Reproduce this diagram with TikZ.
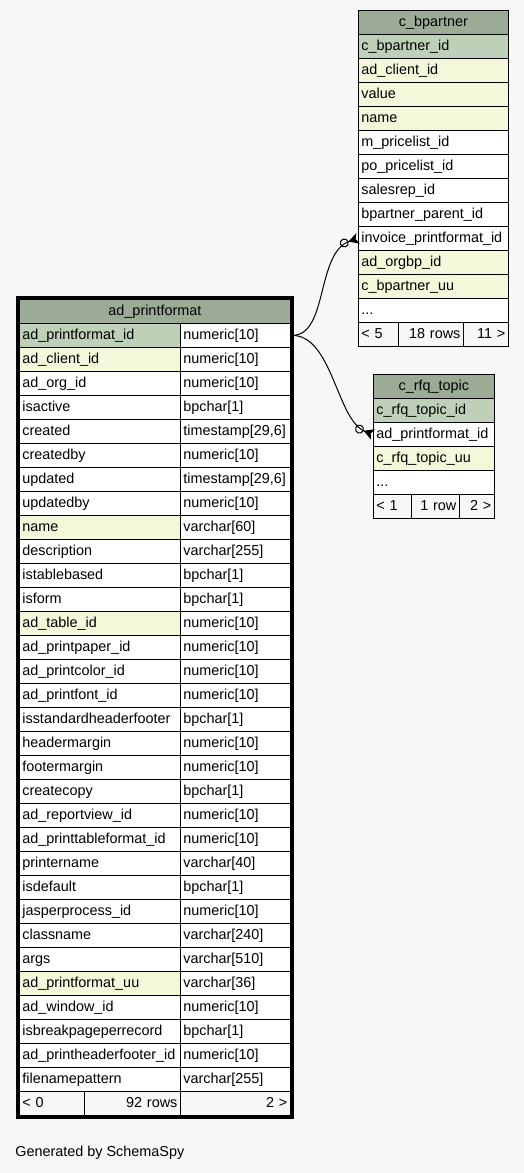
\documentclass[tikz,border=0pt]{standalone}
\usepackage{fontspec}
\setmainfont{Liberation Sans}
\usetikzlibrary{arrows.meta}
\definecolor{bg}{HTML}{F7F7F7}
\definecolor{hdr}{HTML}{9BAB96}
\definecolor{pkc}{HTML}{BED1B8}
\definecolor{idx}{HTML}{F4F7DA}

\begin{document}
\begin{tikzpicture}[x=1pt,y=-1pt,
  every node/.style={font=\fontsize{14.4}{17}\selectfont,draw=black,line width=0.8pt,inner xsep=3pt,inner ysep=0pt,
    text height=11pt,text depth=3.5pt,minimum height=24pt,anchor=north west,align=left},
  hd/.style={fill=hdr,align=center},pk/.style={fill=pkc},ix/.style={fill=idx},cl/.style={fill=white},
  ft/.style={fill=bg},
  nm/.style={text width=155pt},ty/.style={text width=104pt},
  bp/.style={text width=144pt},rq/.style={text width=115pt},
  e/.style={line width=1pt,-{Circle[open,length=9pt,line width=1pt]Stealth[reversed,length=10pt,width=11pt,inset=2.5pt]}}]
\fill[bg] (0,0) rectangle (524,1173);
\useasboundingbox (0,0) rectangle (524,1173);
% ad_printformat
\node[hd,text width=265pt] (PfHead) at (19,299) {ad\_printformat};
\node[pk,nm] (PfPrintFormatId) at (19,323) {ad\_printformat\_id};
\node[cl,ty] (PfPrintFormatIdT) at (180,323) {numeric[10]};
\node[ix,nm] (PfClientId) at (19,347) {ad\_client\_id};
\node[cl,ty] (PfClientIdT) at (180,347) {numeric[10]};
\node[cl,nm] (PfOrgId) at (19,371) {ad\_org\_id};
\node[cl,ty] (PfOrgIdT) at (180,371) {numeric[10]};
\node[cl,nm] (PfIsActive) at (19,395) {isactive};
\node[cl,ty] (PfIsActiveT) at (180,395) {bpchar[1]};
\node[cl,nm] (PfCreated) at (19,419) {created};
\node[cl,ty] (PfCreatedT) at (180,419) {timestamp[29,6]};
\node[cl,nm] (PfCreatedBy) at (19,443) {createdby};
\node[cl,ty] (PfCreatedByT) at (180,443) {numeric[10]};
\node[cl,nm] (PfUpdated) at (19,467) {updated};
\node[cl,ty] (PfUpdatedT) at (180,467) {timestamp[29,6]};
\node[cl,nm] (PfUpdatedBy) at (19,491) {updatedby};
\node[cl,ty] (PfUpdatedByT) at (180,491) {numeric[10]};
\node[ix,nm] (PfName) at (19,515) {name};
\node[cl,ty] (PfNameT) at (180,515) {varchar[60]};
\node[cl,nm] (PfDescription) at (19,539) {description};
\node[cl,ty] (PfDescriptionT) at (180,539) {varchar[255]};
\node[cl,nm] (PfIsTableBased) at (19,563) {istablebased};
\node[cl,ty] (PfIsTableBasedT) at (180,563) {bpchar[1]};
\node[cl,nm] (PfIsForm) at (19,587) {isform};
\node[cl,ty] (PfIsFormT) at (180,587) {bpchar[1]};
\node[ix,nm] (PfTableId) at (19,611) {ad\_table\_id};
\node[cl,ty] (PfTableIdT) at (180,611) {numeric[10]};
\node[cl,nm] (PfPrintPaperId) at (19,635) {ad\_printpaper\_id};
\node[cl,ty] (PfPrintPaperIdT) at (180,635) {numeric[10]};
\node[cl,nm] (PfPrintColorId) at (19,659) {ad\_printcolor\_id};
\node[cl,ty] (PfPrintColorIdT) at (180,659) {numeric[10]};
\node[cl,nm] (PfPrintFontId) at (19,683) {ad\_printfont\_id};
\node[cl,ty] (PfPrintFontIdT) at (180,683) {numeric[10]};
\node[cl,nm] (PfIsStdHeaderFooter) at (19,707) {isstandardheaderfooter};
\node[cl,ty] (PfIsStdHeaderFooterT) at (180,707) {bpchar[1]};
\node[cl,nm] (PfHeaderMargin) at (19,731) {headermargin};
\node[cl,ty] (PfHeaderMarginT) at (180,731) {numeric[10]};
\node[cl,nm] (PfFooterMargin) at (19,755) {footermargin};
\node[cl,ty] (PfFooterMarginT) at (180,755) {numeric[10]};
\node[cl,nm] (PfCreateCopy) at (19,779) {createcopy};
\node[cl,ty] (PfCreateCopyT) at (180,779) {bpchar[1]};
\node[cl,nm] (PfReportViewId) at (19,803) {ad\_reportview\_id};
\node[cl,ty] (PfReportViewIdT) at (180,803) {numeric[10]};
\node[cl,nm] (PfPrintTableFormatId) at (19,827) {ad\_printtableformat\_id};
\node[cl,ty] (PfPrintTableFormatIdT) at (180,827) {numeric[10]};
\node[cl,nm] (PfPrinterName) at (19,851) {printername};
\node[cl,ty] (PfPrinterNameT) at (180,851) {varchar[40]};
\node[cl,nm] (PfIsDefault) at (19,875) {isdefault};
\node[cl,ty] (PfIsDefaultT) at (180,875) {bpchar[1]};
\node[cl,nm] (PfJasperProcessId) at (19,899) {jasperprocess\_id};
\node[cl,ty] (PfJasperProcessIdT) at (180,899) {numeric[10]};
\node[cl,nm] (PfClassName) at (19,923) {classname};
\node[cl,ty] (PfClassNameT) at (180,923) {varchar[240]};
\node[cl,nm] (PfArgs) at (19,947) {args};
\node[cl,ty] (PfArgsT) at (180,947) {varchar[510]};
\node[ix,nm] (PfPrintFormatUu) at (19,971) {ad\_printformat\_uu};
\node[cl,ty] (PfPrintFormatUuT) at (180,971) {varchar[36]};
\node[cl,nm] (PfWindowId) at (19,995) {ad\_window\_id};
\node[cl,ty] (PfWindowIdT) at (180,995) {numeric[10]};
\node[cl,nm] (PfIsBreakPage) at (19,1019) {isbreakpageperrecord};
\node[cl,ty] (PfIsBreakPageT) at (180,1019) {bpchar[1]};
\node[cl,nm] (PfPrintHeaderFooterId) at (19,1043) {ad\_printheaderfooter\_id};
\node[cl,ty] (PfPrintHeaderFooterIdT) at (180,1043) {numeric[10]};
\node[cl,nm] (PfFileNamePattern) at (19,1067) {filenamepattern};
\node[cl,ty] (PfFileNamePatternT) at (180,1067) {varchar[255]};
\node[ft,text width=59pt] (PfFootLeft) at (19,1091) {< 0};
\node[ft,text width=90pt,align=right] (PfFootRows) at (84,1091) {92 rows};
\node[ft,ty,align=right] (PfFootRight) at (180,1091) {2 >};
\draw[line width=3pt] ([shift={(-1.5,-1.5)}]PfHead.north west) rectangle ([shift={(1.5,1.5)}]PfFootRight.south east);
% c_bpartner
\node[hd,bp] (BpHead) at (358,10) {c\_bpartner};
\node[pk,bp] (BpPartnerId) at (358,34) {c\_bpartner\_id};
\node[ix,bp] (BpClientId) at (358,58) {ad\_client\_id};
\node[ix,bp] (BpValue) at (358,82) {value};
\node[ix,bp] (BpName) at (358,106) {name};
\node[cl,bp] (BpPriceListId) at (358,130) {m\_pricelist\_id};
\node[cl,bp] (BpPoPriceListId) at (358,154) {po\_pricelist\_id};
\node[cl,bp] (BpSalesRepId) at (358,178) {salesrep\_id};
\node[cl,bp] (BpParentId) at (358,202) {bpartner\_parent\_id};
\node[cl,bp] (BpInvoicePrintFormatId) at (358,226) {invoice\_printformat\_id};
\node[ix,bp] (BpOrgBpId) at (358,250) {ad\_orgbp\_id};
\node[ix,bp] (BpPartnerUu) at (358,274) {c\_bpartner\_uu};
\node[cl,bp] (BpMore) at (358,298) {...};
\node[ft,text width=34pt] (BpFootLeft) at (358,322) {< 5};
\node[ft,text width=59pt,align=right] (BpFootRows) at (398,322) {18 rows};
\node[ft,text width=39pt,align=right] (BpFootRight) at (463,322) {11 >};
% c_rfq_topic
\node[hd,rq] (RqHead) at (373,374) {c\_rfq\_topic};
\node[pk,rq] (RqTopicId) at (373,398) {c\_rfq\_topic\_id};
\node[cl,rq] (RqPrintFormatId) at (373,422) {ad\_printformat\_id};
\node[ix,rq] (RqTopicUu) at (373,446) {c\_rfq\_topic\_uu};
\node[cl,rq] (RqMore) at (373,470) {...};
\node[ft,text width=32pt] (RqFootLeft) at (373,494) {< 1};
\node[ft,text width=42pt,align=right] (RqFootRows) at (411,494) {1 row};
\node[ft,text width=29pt,align=right] (RqFootRight) at (459,494) {2 >};
% relations
\draw[e] ([xshift=1.5pt]PfPrintFormatIdT.east) .. controls +(36,0) and +(-42,14) .. (BpInvoicePrintFormatId.west);
\draw[e] ([xshift=1.5pt]PfPrintFormatIdT.east) .. controls +(40,0) and +(-36,-14) .. (RqPrintFormatId.west);
\node[draw=none,minimum height=0pt,anchor=west] (Generated) at (12,1153) {Generated by SchemaSpy};
\end{tikzpicture}
\end{document}
